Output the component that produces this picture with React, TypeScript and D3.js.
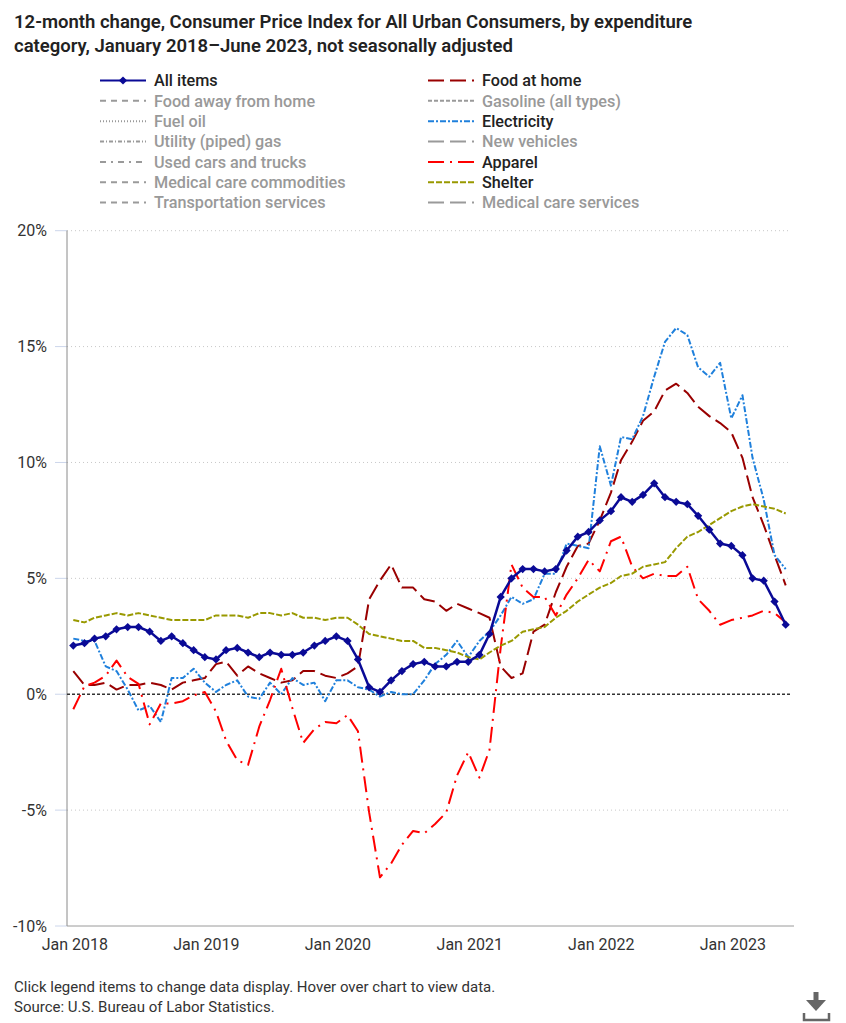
import React from "react";
import * as d3 from "d3";

// ---- Data (12-month % change, NSA), Jan 2018 – Jun 2023 ----
const START_MONTH = new Date(2018, 0, 1);
const END_MONTH = new Date(2023, 5, 1);
const months: Date[] = d3.timeMonth.range(START_MONTH, new Date(2023, 6, 1));

const allItems = [
  2.1, 2.2, 2.4, 2.5, 2.8, 2.9, 2.9, 2.7, 2.3, 2.5, 2.2, 1.9,
  1.6, 1.5, 1.9, 2.0, 1.8, 1.6, 1.8, 1.7, 1.7, 1.8, 2.1, 2.3,
  2.5, 2.3, 1.5, 0.3, 0.1, 0.6, 1.0, 1.3, 1.4, 1.2, 1.2, 1.4,
  1.4, 1.7, 2.6, 4.2, 5.0, 5.4, 5.4, 5.3, 5.4, 6.2, 6.8, 7.0,
  7.5, 7.9, 8.5, 8.3, 8.6, 9.1, 8.5, 8.3, 8.2, 7.7, 7.1, 6.5,
  6.4, 6.0, 5.0, 4.9, 4.0, 3.0,
];
const foodAtHome = [
  1.0, 0.4, 0.4, 0.5, 0.2, 0.4, 0.4, 0.5, 0.4, 0.2, 0.5, 0.6,
  0.7, 1.3, 1.4, 0.8, 1.2, 0.9, 0.7, 0.5, 0.6, 1.0, 1.0, 0.8,
  0.7, 0.9, 1.2, 4.1, 4.9, 5.6, 4.6, 4.6, 4.1, 4.0, 3.6, 3.9,
  3.7, 3.5, 3.3, 1.2, 0.7, 0.9, 2.7, 3.0, 4.4, 5.5, 6.4, 6.5,
  7.5, 8.7, 10.1, 10.9, 11.8, 12.2, 13.1, 13.4, 13.0, 12.4, 12.0, 11.7,
  11.3, 10.2, 8.5, 7.3, 6.0, 4.7,
];
const electricity = [
  2.4, 2.3, 2.3, 1.2, 1.0, 0.2, -0.7, -0.5, -1.2, 0.7, 0.7, 1.1,
  0.5, 0.1, 0.4, 0.6, -0.1, -0.2, 0.5, 0.0, 0.7, 0.4, 0.5, -0.3,
  0.6, 0.6, 0.3, 0.2, -0.1, 0.1, 0.0, 0.0, 0.6, 1.3, 1.7, 2.3,
  1.6, 2.3, 2.7, 3.4, 4.2, 3.9, 4.1, 5.2, 5.2, 6.5, 6.4, 6.3,
  10.7, 9.0, 11.1, 11.0, 12.0, 13.7, 15.2, 15.8, 15.5, 14.1, 13.7, 14.3,
  11.9, 12.9, 10.2, 8.4, 6.0, 5.4,
];
const apparel = [
  -0.65, 0.35, 0.5, 0.8, 1.45, 0.75, 0.45, -1.3, -0.4, -0.4, -0.3, -0.05,
  0.1, -0.75, -2.0, -2.85, -3.05, -1.4, -0.25, 1.1, -0.6, -2.1, -1.5, -1.2,
  -1.25, -0.9, -1.6, -5.1, -7.9, -7.3, -6.5, -5.9, -6.0, -5.6, -5.1, -3.5,
  -2.5, -3.6, -2.4, 2.0, 5.6, 4.6, 4.2, 4.2, 3.4, 4.3, 5.0, 5.8,
  5.3, 6.6, 6.8, 5.5, 5.0, 5.2, 5.1, 5.1, 5.5, 4.1, 3.6, 3.0,
  3.2, 3.3, 3.4, 3.6, 3.5, 3.1,
];
const shelter = [
  3.2, 3.1, 3.3, 3.4, 3.5, 3.4, 3.5, 3.4, 3.3, 3.2, 3.2, 3.2,
  3.2, 3.4, 3.4, 3.4, 3.3, 3.5, 3.5, 3.4, 3.5, 3.3, 3.3, 3.2,
  3.3, 3.3, 3.0, 2.6, 2.5, 2.4, 2.3, 2.3, 2.0, 2.0, 1.9, 1.8,
  1.6, 1.5, 1.8, 2.1, 2.3, 2.7, 2.8, 2.9, 3.3, 3.6, 4.0, 4.3,
  4.6, 4.8, 5.1, 5.2, 5.5, 5.6, 5.7, 6.3, 6.8, 7.0, 7.3, 7.6,
  7.9, 8.1, 8.2, 8.1, 8.0, 7.8,
];

const yTicks = [-10, -5, 0, 5, 10, 15, 20];
const xTickLabels = ["Jan 2018", "Jan 2019", "Jan 2020", "Jan 2021", "Jan 2022", "Jan 2023"];
const xTickDates = xTickLabels.map((_, i) => new Date(2018 + i, 0, 1));

const legendLeft = [
  "All items",
  "Food away from home",
  "Fuel oil",
  "Utility (piped) gas",
  "Used cars and trucks",
  "Medical care commodities",
  "Transportation services",
];
const legendRight = [
  "Food at home",
  "Gasoline (all types)",
  "Electricity",
  "New vehicles",
  "Apparel",
  "Shelter",
  "Medical care services",
];

// ---- Styles ----
const FONT = "Roboto, 'Noto Sans', sans-serif";
const C_ALL = "#0a0a96";
const C_FOOD = "#990000";
const C_ELEC = "#1f80dc";
const C_APP = "#ff0000";
const C_SHEL = "#999900";
const C_GRAY = "#9a9a9a";

type LegendStyle = { color: string; dash: string; active: boolean; marker?: boolean };
const leftStyles: LegendStyle[] = [
  { color: C_ALL, dash: "", active: true, marker: true },
  { color: C_GRAY, dash: "6,5", active: false },
  { color: C_GRAY, dash: "1,2", active: false },
  { color: C_GRAY, dash: "4,2,1,2", active: false },
  { color: C_GRAY, dash: "6,5,2,5", active: false },
  { color: C_GRAY, dash: "6,5", active: false },
  { color: C_GRAY, dash: "6,5", active: false },
];
const rightStyles: LegendStyle[] = [
  { color: C_FOOD, dash: "16,6", active: true },
  { color: C_GRAY, dash: "4,2", active: false },
  { color: C_ELEC, dash: "6,2,2,2", active: true },
  { color: C_GRAY, dash: "16,6", active: false },
  { color: C_APP, dash: "16,6,2,6", active: true },
  { color: C_SHEL, dash: "6,2", active: true },
  { color: C_GRAY, dash: "16,6", active: false },
];

export default function App() {
  const x = d3.scaleTime().domain([START_MONTH, END_MONTH]).range([73.3, 785.7]);
  const y = d3.scaleLinear().domain([-10, 20]).range([926, 230.7]);
  const plotLeft = 67;
  const plotRight = 791;

  const mk = (vals: number[]) => vals.map((v, i) => ({ date: months[i], v }));
  const line = d3
    .line<{ date: Date; v: number }>()
    .x((d) => x(d.date))
    .y((d) => y(d.v));

  const series = [
    { data: mk(foodAtHome), color: C_FOOD, dash: "16,6", w: 2 },
    { data: mk(electricity), color: C_ELEC, dash: "6,2,2,2", w: 2 },
    { data: mk(apparel), color: C_APP, dash: "16,6,2,6", w: 2 },
    { data: mk(shelter), color: C_SHEL, dash: "6,2", w: 2 },
  ];
  const allData = mk(allItems);
  const diamond = d3.symbol(d3.symbolSquare, 34)();

  const rowY = (i: number) => 80.5 + i * 20.35;

  const legendItem = (label: string, st: LegendStyle, i: number, x0: number) => (
    <g key={label}>
      <line
        x1={x0}
        x2={x0 + 46}
        y1={rowY(i)}
        y2={rowY(i)}
        stroke={st.color}
        strokeWidth={2}
        strokeDasharray={st.dash || undefined}
      />
      {st.marker && (
        <path d={diamond!} transform={`translate(${x0 + 23},${rowY(i)}) rotate(45)`} fill={st.color} />
      )}
      <text
        x={x0 + 54}
        y={rowY(i)}
        dy="0.35em"
        fontSize={16.2}
        fontWeight={500}
        fill={st.active ? "#222" : "#999"}
      >
        {label}
      </text>
    </g>
  );

  return (
    <svg
      width={846}
      height={1023}
      style={{ position: "absolute", left: 0, top: 0, background: "#fff" }}
      fontFamily={FONT}
    >
      {/* Title */}
      <text x={14} y={28} fontSize={18.5} fontWeight={600} fill="#222">
        12-month change, Consumer Price Index for All Urban Consumers, by expenditure
      </text>
      <text x={14} y={52} fontSize={18.5} fontWeight={600} fill="#222">
        category, January 2018–June 2023, not seasonally adjusted
      </text>

      {/* Legend */}
      {legendLeft.map((l, i) => legendItem(l, leftStyles[i], i, 100))}
      {legendRight.map((l, i) => legendItem(l, rightStyles[i], i, 428))}

      {/* Grid lines */}
      {yTicks.map((t) =>
        t === 0 || t === -10 ? null : (
          <line
            key={"g" + t}
            x1={plotLeft}
            x2={plotRight}
            y1={y(t)}
            y2={y(t)}
            stroke="#c8c8c8"
            strokeWidth={1}
            strokeDasharray="1,3"
          />
        )
      )}
      {/* Y ticks and labels */}
      {yTicks.map((t) => (
        <g key={"t" + t}>
          <line x1={55} x2={plotLeft} y1={y(t)} y2={y(t)} stroke="#ccd6eb" strokeWidth={1} />
          <text x={47} y={y(t)} dy="0.35em" textAnchor="end" fontSize={16} fill="#333">
            {t + "%"}
          </text>
        </g>
      ))}
      {/* Axes */}
      <line x1={plotLeft} x2={plotLeft} y1={y(20)} y2={y(-10)} stroke="#8a8a8a" strokeWidth={1} />
      <line x1={plotLeft} x2={794} y1={y(-10)} y2={y(-10)} stroke="#9a9a9a" strokeWidth={1} />
      {xTickDates.map((d, i) => (
        <text key={"x" + i} x={x(d) + 1.5} y={950} textAnchor="middle" fontSize={16} fill="#333">
          {xTickLabels[i]}
        </text>
      ))}

      {/* Zero line */}
      <line
        x1={plotLeft}
        x2={plotRight}
        y1={y(0)}
        y2={y(0)}
        stroke="#333"
        strokeWidth={1.5}
        strokeDasharray="3,2"
      />

      {/* Series */}
      {series.map((s, i) => (
        <path
          key={"s" + i}
          d={line(s.data)!}
          fill="none"
          stroke={s.color}
          strokeWidth={s.w}
          strokeDasharray={s.dash}
          strokeLinejoin="round"
        />
      ))}
      <path d={line(allData)!} fill="none" stroke={C_ALL} strokeWidth={2.5} strokeLinejoin="round" />
      {allData.map((d, i) => (
        <path
          key={"m" + i}
          d={diamond!}
          transform={`translate(${x(d.date)},${y(d.v)}) rotate(45)`}
          fill={C_ALL}
        />
      ))}

      {/* Footer */}
      <text x={14} y={992} fontSize={15} fill="#333">
        Click legend items to change data display. Hover over chart to view data.
      </text>
      <text x={14} y={1012} fontSize={15} fill="#333">
        Source: U.S. Bureau of Labor Statistics.
      </text>

      {/* Download icon */}
      <g fill="#666" stroke="none">
        <rect x={813.5} y={992} width={5} height={9} />
        <path d="M806,1000 L826,1000 L816,1011 Z" />
        <path
          d="M804,1013 L804,1020 L829,1020 L829,1013"
          fill="none"
          stroke="#666"
          strokeWidth={2.5}
        />
      </g>
    </svg>
  );
}
